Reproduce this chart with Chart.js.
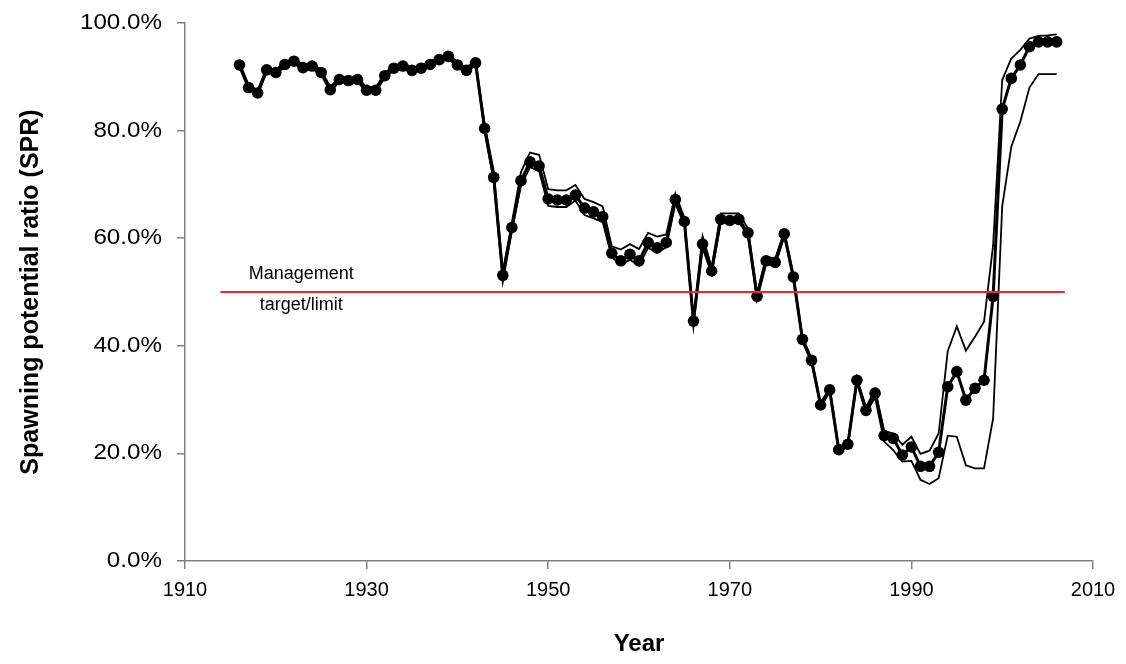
<!DOCTYPE html>
<html>
<head>
<meta charset="utf-8">
<script src="https://cdn.jsdelivr.net/npm/chart.js@4.4.1/dist/chart.umd.min.js"></script>
<style>
html,body{margin:0;padding:0;background:#fff;}
canvas{display:block;}
</style>
</head>
<body>
<canvas id="c" width="1126" height="664"></canvas>
<script>
const years = [1916,1917,1918,1919,1920,1921,1922,1923,1924,1925,
1926,1927,1928,1929,1930,1931,1932,1933,1934,1935,
1936,1937,1938,1939,1940,1941,1942,1943,1944,1945,
1946,1947,1948,1949,1950,1951,1952,1953,1954,1955,
1956,1957,1958,1959,1960,1961,1962,1963,1964,1965,
1966,1967,1968,1969,1970,1971,1972,1973,1974,1975,
1976,1977,1978,1979,1980,1981,1982,1983,1984,1985,
1986,1987,1988,1989,1990,1991,1992,1993,1994,1995,
1996,1997,1998,1999,2000,2001,2002,2003,2004,2005,2006];

const sprEstimate = [92.2,88.0,87.0,91.3,90.8,92.3,92.9,91.7,92.0,90.8,
87.6,89.5,89.3,89.5,87.5,87.5,90.2,91.6,92.0,91.2,
91.6,92.3,93.2,93.8,92.2,91.2,92.6,80.4,71.3,53.1,
62.0,70.7,74.2,73.4,67.3,67.1,67.1,68.0,65.6,64.9,
64.0,57.2,55.8,57.0,55.8,59.2,58.2,59.2,67.2,63.1,
44.6,58.9,53.9,63.5,63.3,63.5,61.0,49.2,55.8,55.5,
60.8,52.8,41.2,37.3,29.0,31.8,20.7,21.7,33.6,28.0,
31.2,23.3,22.8,19.7,21.2,17.6,17.6,20.2,32.4,35.2,
29.9,32.1,33.6,49.2,84.0,89.7,92.2,95.6,96.5,96.5,96.5];

const sprUpper = [92.7,88.5,87.5,91.8,91.3,92.8,93.4,92.2,92.5,91.3,
88.1,90.0,89.8,90.0,88.0,88.0,90.7,92.1,92.5,91.7,
92.1,92.8,93.7,94.3,92.7,91.7,93.1,81.2,72.5,53.8,
62.9,72.3,75.9,75.5,69.1,68.9,68.9,69.9,67.3,66.7,
65.9,58.5,57.9,58.9,58.0,61.0,60.3,60.7,68.3,63.8,
45.2,60.4,54.6,64.6,64.6,64.6,61.8,49.8,56.6,56.2,
61.3,53.3,41.6,37.7,29.4,32.2,21.1,22.1,34.0,28.6,
31.9,24.2,23.7,21.6,23.1,19.9,20.5,23.7,39.0,43.6,
39.1,41.7,44.5,58.7,89.4,93.4,95.0,97.1,97.6,97.7,97.9];

const sprLower = [91.8,87.6,86.6,90.9,90.4,91.9,92.5,91.3,91.6,90.4,
87.2,89.1,88.9,89.1,87.1,87.1,89.8,91.2,91.6,90.8,
91.2,91.9,92.8,93.4,91.8,90.8,92.2,79.8,70.6,51.9,
61.3,69.8,73.2,72.5,66.0,65.8,65.8,67.0,64.3,63.7,
63.0,56.5,55.0,56.0,54.9,58.2,57.3,58.3,66.4,62.5,
44.0,58.2,53.3,63.0,62.9,63.0,60.4,48.6,55.2,54.9,
60.3,52.3,40.8,36.9,28.6,31.4,20.3,21.3,33.2,27.5,
30.4,22.2,20.6,18.5,18.6,15.1,14.3,15.4,23.3,23.1,
17.8,17.2,17.2,26.5,65.9,77.0,81.7,88.0,90.5,90.5,90.5];

const targetLevel = 50;
const targetSpan = [1913.9, 2006.9];
const targetLabel = ['Management', 'target/limit'];

const xTicks = [1910,1930,1950,1970,1990,2010];
const yTickLabels = ['0.0%','20.0%','40.0%','60.0%','80.0%','100.0%'];
const yTickValues = [0,20,40,60,80,100];

const FONT = '"Liberation Sans", Arial, Helvetica, sans-serif';

function pts(vals){ return years.map((y,i)=>({x:y, y:vals[i]})); }

const labelPlugin = {
  id: 'targetLabel',
  afterDatasetsDraw(chart){
    const {ctx, scales} = chart;
    const x = scales.x.getPixelForValue(1922.8);
    const y = scales.y.getPixelForValue(targetLevel);
    ctx.save();
    ctx.font = '18px ' + FONT;
    ctx.fillStyle = '#000';
    ctx.textAlign = 'center';
    ctx.textBaseline = 'middle';
    ctx.fillText(targetLabel[0], x, y - 18);
    ctx.fillText(targetLabel[1], x, y + 13);
    ctx.restore();
  }
};

// y tick labels drawn slightly wider, as in the reference
const yLabelPlugin = {
  id: 'yLabels',
  afterDraw(chart){
    const {ctx, scales} = chart;
    const sy = scales.y;
    const right = sy.right - 8 - 15;
    ctx.save();
    ctx.font = '22px ' + FONT;
    ctx.fillStyle = '#000';
    ctx.textAlign = 'right';
    ctx.textBaseline = 'middle';
    yTickValues.forEach((v, i) => {
      const py = sy.getPixelForValue(v);
      ctx.save();
      ctx.translate(right, py);
      ctx.scale(1.1, 1);
      ctx.fillText(yTickLabels[i], 0, 0);
      ctx.restore();
    });
    ctx.restore();
  }
};

new Chart(document.getElementById('c'), {
  type: 'line',
  data: {
    datasets: [
      {
        label: 'Target',
        data: [{x: targetSpan[0], y: targetLevel}, {x: targetSpan[1], y: targetLevel}],
        borderColor: '#ff2020',
        borderWidth: 1.8,
        pointRadius: 0,
        fill: false,
        order: 0
      },
      {
        label: 'Estimate',
        data: pts(sprEstimate),
        borderColor: '#000',
        backgroundColor: '#000',
        borderWidth: 3,
        pointRadius: 5.8,
        pointBorderWidth: 0,
        pointBackgroundColor: '#000',
        fill: false,
        order: 1
      },
      {
        label: 'Upper',
        data: pts(sprUpper),
        borderColor: '#000',
        borderWidth: 1.8,
        pointRadius: 0,
        fill: false,
        order: 2
      },
      {
        label: 'Lower',
        data: pts(sprLower),
        borderColor: '#000',
        borderWidth: 1.8,
        pointRadius: 0,
        fill: false,
        order: 2
      }
    ]
  },
  options: {
    responsive: false,
    animation: false,
    events: [],
    layout: { padding: { left: 0, top: 23, right: 33, bottom: 0 } },
    plugins: { legend: { display: false }, tooltip: { enabled: false } },
    scales: {
      x: {
        type: 'linear',
        min: 1910, max: 2010,
        afterFit(s){ s.height = 103; },
        afterBuildTicks(s){ s.ticks = xTicks.map(v=>({value:v})); },
        ticks: {
          color: '#000',
          font: { family: FONT, size: 20 },
          padding: 9,
          maxRotation: 0,
          callback: v => String(v)
        },
        grid: { drawOnChartArea: false, drawTicks: true, tickLength: 8, color: '#808080', lineWidth: 1.5 },
        border: { display: true, color: '#808080', width: 1.5 },
        title: {
          display: true, text: 'Year', color: '#000',
          font: { family: FONT, size: 24, weight: 'bold' },
          padding: { top: 0, bottom: 5 }
        }
      },
      y: {
        type: 'linear',
        min: 0, max: 100,
        afterFit(s){ s.width = 185; },
        afterBuildTicks(s){ s.ticks = yTickValues.map(v=>({value:v})); },
        ticks: {
          display: false,
          color: '#000',
          font: { family: FONT, size: 20 },
          padding: 14,
          callback: (v) => yTickLabels[yTickValues.indexOf(v)]
        },
        grid: { drawOnChartArea: false, drawTicks: true, tickLength: 8, color: '#808080', lineWidth: 1.5 },
        border: { display: true, color: '#808080', width: 1.5 },
        title: {
          display: true, text: 'Spawning potential ratio (SPR)', color: '#000',
          font: { family: FONT, size: 25, weight: 'bold' },
          padding: { top: 16, bottom: 0 }
        }
      }
    }
  },
  plugins: [labelPlugin, yLabelPlugin]
});
</script>
</body>
</html>
